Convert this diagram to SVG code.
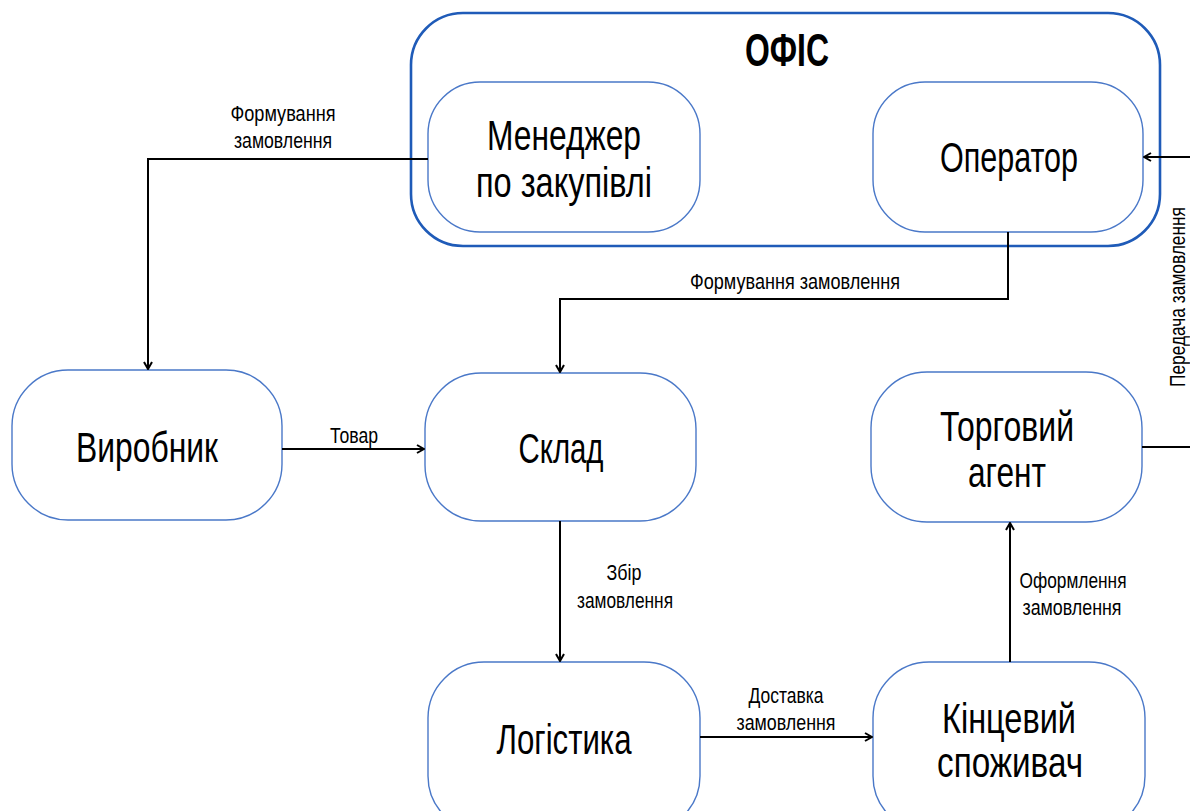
<svg xmlns="http://www.w3.org/2000/svg" width="1190" height="811" viewBox="0 0 1190 811">
<style>
.node{fill:#fff;stroke:#4a78c8;stroke-width:1.4}
.cont{fill:#fff;stroke:#1f5bb8;stroke-width:2.6}
.nt{font-family:"Liberation Sans",Arial,sans-serif;font-size:42px;fill:#000;text-anchor:middle}
.title{font-family:"Liberation Sans",Arial,sans-serif;font-size:46px;font-weight:bold;fill:#000;text-anchor:middle}
.lb{font-family:"Liberation Sans",Arial,sans-serif;font-size:22px;fill:#000;text-anchor:middle}
.edge{fill:none;stroke:#000;stroke-width:2}
</style>
<defs>
<marker id="arr" viewBox="0 0 10 10" refX="9" refY="5" markerWidth="5" markerHeight="5" orient="auto" markerUnits="strokeWidth">
<path d="M2,1 L9,5 L2,9" fill="none" stroke="#000" stroke-width="2"/>
</marker>
</defs>
<rect width="1190" height="811" fill="#fff"/>
<g id="office">
<rect class="cont" x="411" y="13" width="749" height="233" rx="52"/>
<text class="title" x="787" y="66" textLength="84" lengthAdjust="spacingAndGlyphs">ОФІС</text>
</g>
<g id="manager">
<rect class="node" x="428" y="82" width="272" height="150" rx="52"/>
<text class="nt" x="564" y="150" textLength="154" lengthAdjust="spacingAndGlyphs">Менеджер</text>
<text class="nt" x="564" y="197" textLength="176" lengthAdjust="spacingAndGlyphs">по закупівлі</text>
</g>
<g id="operator">
<rect class="node" x="873" y="82" width="270" height="150" rx="52"/>
<text class="nt" x="1009" y="172" textLength="138" lengthAdjust="spacingAndGlyphs">Оператор</text>
</g>
<g id="vyrobnyk">
<rect class="node" x="12" y="370" width="270" height="150" rx="56"/>
<text class="nt" x="147" y="462" textLength="142" lengthAdjust="spacingAndGlyphs">Виробник</text>
</g>
<g id="sklad">
<rect class="node" x="425" y="373" width="271" height="148" rx="56"/>
<text class="nt" x="561" y="463" textLength="85" lengthAdjust="spacingAndGlyphs">Склад</text>
</g>
<g id="agent">
<rect class="node" x="871" y="372" width="271" height="150" rx="56"/>
<text class="nt" x="1007" y="441" textLength="134" lengthAdjust="spacingAndGlyphs">Торговий</text>
<text class="nt" x="1007" y="487" textLength="78" lengthAdjust="spacingAndGlyphs">агент</text>
</g>
<g id="logistics">
<rect class="node" x="428" y="662" width="272" height="170" rx="56"/>
<text class="nt" x="564" y="754" textLength="135" lengthAdjust="spacingAndGlyphs">Логістика</text>
</g>
<g id="consumer">
<rect class="node" x="873" y="662" width="272" height="170" rx="56"/>
<text class="nt" x="1009" y="733" textLength="134" lengthAdjust="spacingAndGlyphs">Кінцевий</text>
<text class="nt" x="1010" y="777" textLength="146" lengthAdjust="spacingAndGlyphs">споживач</text>
</g>
<g id="connectors">
<path class="edge" d="M428,159 H148 V369" marker-end="url(#arr)"/>
<path class="edge" d="M1008,232 V299 H560 V372" marker-end="url(#arr)"/>
<path class="edge" d="M1142,447 H1200 M1200,157 H1144" marker-end="url(#arr)"/>
<path class="edge" d="M282,449 H424" marker-end="url(#arr)"/>
<path class="edge" d="M560,521 V661" marker-end="url(#arr)"/>
<path class="edge" d="M700,737 H872" marker-end="url(#arr)"/>
<path class="edge" d="M1010,662 V523" marker-end="url(#arr)"/>
<text class="lb" x="283" y="121" textLength="105" lengthAdjust="spacingAndGlyphs">Формування</text>
<text class="lb" x="283" y="148" textLength="98" lengthAdjust="spacingAndGlyphs">замовлення</text>
<text class="lb" x="795" y="289" textLength="210" lengthAdjust="spacingAndGlyphs">Формування замовлення</text>
<text class="lb" x="354" y="443" textLength="48" lengthAdjust="spacingAndGlyphs">Товар</text>
<text class="lb" x="624" y="580" textLength="35" lengthAdjust="spacingAndGlyphs">Збір</text>
<text class="lb" x="625" y="608" textLength="96" lengthAdjust="spacingAndGlyphs">замовлення</text>
<text class="lb" x="786" y="703" textLength="75" lengthAdjust="spacingAndGlyphs">Доставка</text>
<text class="lb" x="786" y="730" textLength="99" lengthAdjust="spacingAndGlyphs">замовлення</text>
<text class="lb" x="1073" y="588" textLength="107" lengthAdjust="spacingAndGlyphs">Оформлення</text>
<text class="lb" x="1072" y="615" textLength="99" lengthAdjust="spacingAndGlyphs">замовлення</text>
<text class="lb" transform="translate(1185,297) rotate(-90)" x="0" y="0" textLength="180" lengthAdjust="spacingAndGlyphs">Передача замовлення</text>
</g>
</svg>
